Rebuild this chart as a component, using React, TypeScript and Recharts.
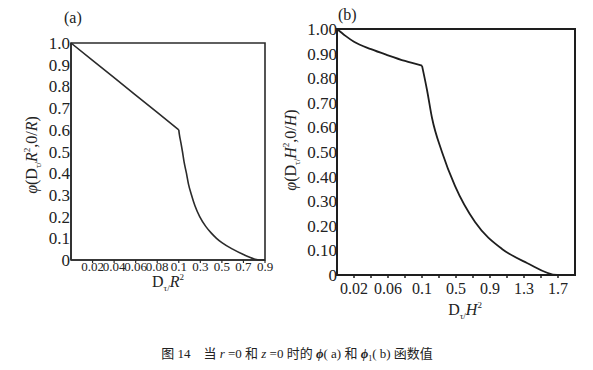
import React from "react";
import { LineChart, Line, XAxis, YAxis, ReferenceArea } from "recharts";

// x values are read in the original (non-linear) axis units
const xA = [0, 0.02, 0.04, 0.06, 0.08, 0.1, 0.105, 0.12, 0.134, 0.15, 0.171, 0.19, 0.218, 0.25, 0.294, 0.35, 0.4, 0.45, 0.5, 0.6, 0.7, 0.8, 0.85, 0.9];
const phiA = [1.0, 0.92, 0.84, 0.76, 0.68, 0.6, 0.58, 0.54, 0.5, 0.45, 0.4, 0.35, 0.3, 0.25, 0.2, 0.155, 0.125, 0.1, 0.08, 0.05, 0.025, 0.005, 0, 0];

const xB = [0, 0.01, 0.02, 0.04, 0.06, 0.08, 0.1, 0.159, 0.218, 0.335, 0.488, 0.724, 1.041, 1.335, 1.69, 1.9];
const phiB = [1.0, 0.972, 0.948, 0.918, 0.893, 0.87, 0.851, 0.752, 0.638, 0.5, 0.362, 0.215, 0.106, 0.049, 0, 0];

const ticksA = [0.02, 0.04, 0.06, 0.08, 0.1, 0.3, 0.5, 0.7, 0.9];
const ticksB = [0.02, 0.04, 0.06, 0.08, 0.1, 0.3, 0.5, 0.7, 0.9, 1.1, 1.3, 1.5, 1.7];
const labelsB = ["0.02", "0.06", "0.1", "0.5", "0.9", "1.3", "1.7"];
const yTicks = [0, 0.1, 0.2, 0.3, 0.4, 0.5, 0.6, 0.7, 0.8, 0.9, 1.0];

// the axis is split: 0..0.1 in steps of 0.02, then 0.1..1.9 in steps of 0.2
const toUnit = (x: number) => (x <= 0.1 ? x / 0.02 : 5 + (x - 0.1) / 0.2);
const fmt = (x: number) => String(Math.round(x * 100) / 100);

// split each curve at the kink (x = 0.1) so the corner stays sharp
const rows = (xs: number[], ys: number[]) =>
  xs.map((x, i) => ({
    u: toUnit(x),
    left: x <= 0.1 ? ys[i] : undefined,
    right: x >= 0.1 ? ys[i] : undefined,
  }));

const dataA = rows(xA, phiA);
const dataB = rows(xB, phiB);
const unitsA = ticksA.map(toUnit);
const unitsB = ticksB.map(toUnit);

const serif = "'Liberation Serif', 'DejaVu Serif', serif";
const ink = "#2b2b2b";

const vLabel = (left: number, top: number): React.CSSProperties => ({
  position: "absolute",
  left,
  top,
  transform: "translate(-50%, -50%) rotate(-90deg)",
  whiteSpace: "nowrap",
  fontFamily: serif,
  fontSize: 16,
  color: "#222",
});

function YLab({ letter }: { letter: string }) {
  return (
    <span>
      <i>φ</i>(D<sub style={{ fontSize: 9 }}>τ/</sub><i>{letter}</i>
      <sup style={{ fontSize: 9 }}>2</sup>,0/<i>{letter}</i>)
    </span>
  );
}

function XLab({ letter }: { letter: string }) {
  return (
    <span>
      D<sub style={{ fontSize: 9 }}>τ/</sub><i>{letter}</i>
      <sup style={{ fontSize: 9 }}>2</sup>
    </span>
  );
}

export default function App() {
  return (
    <div style={{ position: "absolute", left: 0, top: 0, width: 593, height: 370, background: "#fff", fontFamily: serif }}>
      <div style={{ position: "absolute", left: 0, top: 0 }}>
        <LineChart width={290} height={300} data={dataA} margin={{ top: 43, right: 25, bottom: 0, left: 0 }}>
          <XAxis
            xAxisId="x"
            type="number"
            dataKey="u"
            domain={[0, 9]}
            ticks={unitsA}
            tickFormatter={(u: number) => fmt(ticksA[unitsA.indexOf(u)])}
            height={40}
            tickLine={{ stroke: ink, strokeWidth: 1.2 }}
            tickSize={3}
            tickMargin={-1}
            interval={0}
            axisLine={{ stroke: ink, strokeWidth: 1.6 }}
            tick={{ fontSize: 13, fill: "#222", fontFamily: serif }}
          />
          <YAxis
            yAxisId="y"
            domain={[0, 1]}
            ticks={yTicks}
            width={71}
            interval={0}
            tickFormatter={(v: number) => (v === 0 ? "0" : v.toFixed(1))}
            tickLine={false}
            tickSize={0}
            tickMargin={1}
            axisLine={{ stroke: ink, strokeWidth: 1.6 }}
            tick={{ fontSize: 17, fill: "#222", fontFamily: serif }}
          />
          <ReferenceArea xAxisId="x" yAxisId="y" x1={0} x2={9} y1={0} y2={1} fill="none" stroke={ink} strokeWidth={1.6} fillOpacity={0} />
          <Line xAxisId="x" yAxisId="y" type="linear" dataKey="left" stroke={ink} strokeWidth={1.6} dot={false} isAnimationActive={false} />
          <Line xAxisId="x" yAxisId="y" type="monotone" dataKey="right" stroke={ink} strokeWidth={1.6} dot={false} isAnimationActive={false} />
        </LineChart>
      </div>

      <div style={{ position: "absolute", left: 284, top: 0 }}>
        <LineChart width={309} height={320} data={dataB} margin={{ top: 29, right: 18, bottom: 0, left: 0 }}>
          <XAxis
            xAxisId="x"
            type="number"
            dataKey="u"
            domain={[0, 14]}
            ticks={unitsB}
            tickFormatter={(u: number) => {
              const s = fmt(ticksB[unitsB.indexOf(u)]);
              return labelsB.includes(s) ? s : "";
            }}
            height={45}
            tickLine={{ stroke: "#1e1e1e", strokeWidth: 1.5 }}
            tickSize={3}
            tickMargin={5}
            interval={0}
            axisLine={{ stroke: "#1e1e1e", strokeWidth: 2 }}
            tick={{ fontSize: 16, fill: "#222", fontFamily: serif }}
          />
          <YAxis
            yAxisId="y"
            domain={[0, 1]}
            ticks={yTicks}
            width={53}
            interval={0}
            tickFormatter={(v: number) => (v === 0 ? "0" : v.toFixed(2))}
            tickLine={false}
            tickSize={0}
            tickMargin={0}
            axisLine={{ stroke: "#1e1e1e", strokeWidth: 2 }}
            tick={{ fontSize: 17, fill: "#222", fontFamily: serif }}
          />
          <ReferenceArea xAxisId="x" yAxisId="y" x1={0} x2={14} y1={0} y2={1} fill="none" stroke="#1e1e1e" strokeWidth={2} fillOpacity={0} />
          <Line xAxisId="x" yAxisId="y" type="monotone" dataKey="left" stroke="#1e1e1e" strokeWidth={1.8} dot={false} isAnimationActive={false} />
          <Line xAxisId="x" yAxisId="y" type="monotone" dataKey="right" stroke="#1e1e1e" strokeWidth={1.8} dot={false} isAnimationActive={false} />
        </LineChart>
      </div>

      <div style={{ position: "absolute", left: 64, top: 9, fontSize: 16, color: "#222" }}>(a)</div>
      <div style={{ position: "absolute", left: 338, top: 6, fontSize: 16, color: "#222" }}>(b)</div>

      <div style={vLabel(33, 155)}><YLab letter="R" /></div>
      <div style={vLabel(292, 150)}><YLab letter="H" /></div>

      <div style={{ position: "absolute", left: 168, top: 283, transform: "translate(-50%, -50%)", fontSize: 16, color: "#222", whiteSpace: "nowrap" }}>
        <XLab letter="R" />
      </div>
      <div style={{ position: "absolute", left: 465, top: 311, transform: "translate(-50%, -50%)", fontSize: 16, color: "#222", whiteSpace: "nowrap" }}>
        <XLab letter="H" />
      </div>

      <div
        style={{
          position: "absolute",
          left: 297,
          top: 353,
          transform: "translate(-50%, -50%)",
          whiteSpace: "nowrap",
          fontSize: 13,
          color: "#222",
          fontFamily: "'Liberation Serif', 'Noto Sans CJK SC', serif",
        }}
      >
        图 14　当 <i>r</i> =0 和 <i>z</i> =0 时的 <b><i>ϕ</i></b>( a) 和 <b><i>ϕ</i></b><sub style={{ fontSize: 8 }}>1</sub>( b) 函数值
      </div>
    </div>
  );
}
